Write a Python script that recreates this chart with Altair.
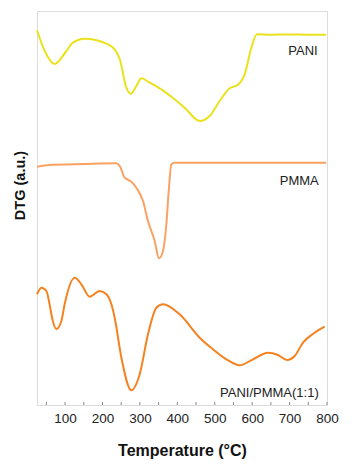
import altair as alt
import pandas as pd

# PANI (yellow)
pani_T = [25, 45.6, 72, 103.5, 121, 152.5, 210.5, 232.6, 246, 263.9, 275.4, 290.6, 304, 326.2, 352.9,
          387.6, 419.7, 459.8, 486.5, 513.2, 539.9, 561.3, 580, 597.9, 612.9, 650, 700, 750, 798]
pani_v = [374.7, 354, 341, 354, 362.3, 366.3, 361.3, 355.7, 346, 317.3, 311.3, 319, 326.7, 322.3, 316.7,
          307.3, 297.3, 284, 289, 304, 316.7, 320, 330.7, 357.3, 370.7, 370.3, 370.5, 370.3, 370.3]

# PMMA (light orange)
pmma_T = [25, 59, 150, 237.2, 246, 259.4, 277.3, 290.6, 308.3, 321.6, 339.5, 351, 361.7, 370.8, 377,
          384.2, 393, 500, 650, 798]
pmma_v = [238.3, 240, 241, 241.7, 239, 227.3, 223.3, 217.3, 204, 184, 164, 146.7, 154, 181, 214,
          240.7, 242.3, 242.3, 242.3, 242.3]

# PANI/PMMA (1:1) (orange)
blend_T = [25, 36.8, 50.1, 59, 66, 76.8, 90.2, 99, 125.7, 143.6, 165.8, 192.6, 210.5, 223.8, 232.6,
           250.5, 277.3, 299.4, 321.6, 344, 361.7, 406.3, 459.8, 495.3, 531.1, 566.7, 602.2, 642.3,
           669, 693, 713.6, 735.8, 767, 793.8]
blend_v = [110.7, 117.3, 114, 100, 86, 76, 84, 101, 127.3, 120.7, 108.3, 114, 110.7, 100.7, 87.3,
           47.3, 14.7, 30.7, 70.7, 97.3, 100.7, 90.7, 67.3, 55.7, 45.7, 39.7, 45.7, 52.3,
           50, 45, 49, 62.3, 72.3, 78.3]

series_names = ["PANI", "PMMA", "PANI/PMMA(1:1)"]
series_colors = ["#e9e21c", "#f9a263", "#f58220"]

label_T = [775, 778, 778]
label_v = [354, 224, 12]

tick_T = list(range(50, 801, 50))

rows = []
for name, T, v in [(series_names[0], pani_T, pani_v),
                   (series_names[1], pmma_T, pmma_v),
                   (series_names[2], blend_T, blend_v)]:
    for t, val in zip(T, v):
        rows.append({"series": name, "T": t, "v": val})
df = pd.DataFrame(rows)
labels_df = pd.DataFrame({"series": series_names, "T": label_T, "v": label_v})
ticks_df = pd.DataFrame({"T": tick_T})

xscale = alt.Scale(domain=[25, 800], nice=False, zero=False)
yscale = alt.Scale(domain=[0, 394], nice=False, zero=False)

lines = alt.Chart(df).mark_line(strokeWidth=2, interpolate="monotone").encode(
    x=alt.X("T:Q", scale=xscale,
            axis=alt.Axis(title="Temperature (°C)", values=list(range(100, 801, 100)),
                          format="d", ticks=False, domain=False, grid=False,
                          labelFont="Liberation Sans", labelFontSize=13.5, labelColor="#222",
                          labelPadding=6, labelFlush=False,
                          titleFont="Liberation Sans", titleFontSize=16, titleFontWeight="bold",
                          titleColor="#111", titlePadding=18)),
    y=alt.Y("v:Q", scale=yscale,
            axis=alt.Axis(title="DTG (a.u.)", labels=False, ticks=False, domain=False, grid=False,
                          titleFont="Liberation Sans", titleFontSize=14.5, titleFontWeight="bold",
                          titleColor="#111", titleX=-17, titleY=174, titleBaseline="middle",
                          titleAngle=270)),
    color=alt.Color("series:N", scale=alt.Scale(domain=series_names, range=series_colors), legend=None),
    detail="series:N",
)

texts = alt.Chart(labels_df).mark_text(align="right", baseline="middle", font="Liberation Sans",
                                       fontSize=13, color="#222").encode(
    x=alt.X("T:Q", scale=xscale),
    y=alt.Y("v:Q", scale=yscale),
    text="series:N",
)

ticks = alt.Chart(ticks_df).mark_rule(color="#888", strokeWidth=1).encode(
    x=alt.X("T:Q", scale=xscale),
    y=alt.value(394),
    y2=alt.value(391),
)

chart = alt.layer(ticks, lines, texts).properties(
    width=290, height=394,
    autosize=alt.AutoSizeParams(type="none"),
    padding={"left": 29, "top": 3, "right": 24, "bottom": 58},
).configure_view(stroke="#888", strokeWidth=1.2).configure(background="white")

chart.save("out.html", embed_options={"renderer": "svg", "actions": False})
